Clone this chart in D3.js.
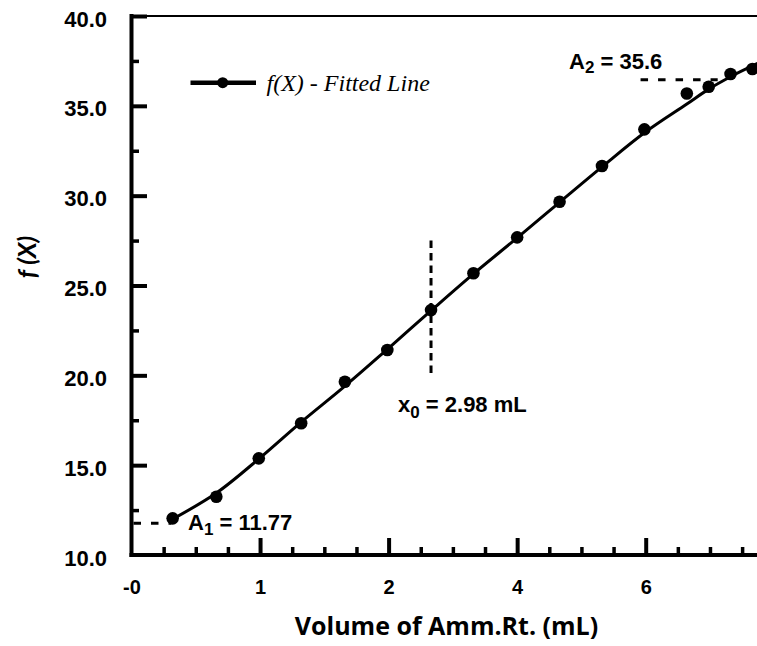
<!DOCTYPE html>
<html>
<head>
<meta charset="utf-8">
<script src="https://cdn.jsdelivr.net/npm/d3@7"></script>
<style>
  html, body { margin: 0; padding: 0; background: #fff; }
  svg { display: block; }
</style>
</head>
<body>
<div id="chart"></div>
<script>
// ---- data ----
// x positions in axis units (major ticks at 0..4, labelled as in the original)
const pointX = [0.32, 0.66, 0.99, 1.32, 1.66, 1.99, 2.33, 2.66, 3.0, 3.33, 3.66, 3.99, 4.32, 4.49, 4.66, 4.83];
const pointY = [12.04, 13.24, 15.38, 17.33, 19.64, 21.41, 23.63, 25.68, 27.68, 29.66, 31.65, 33.69, 35.69, 36.06, 36.77, 37.05];
const curveX = [0.32, 0.66, 0.99, 1.32, 1.66, 1.99, 2.33, 2.66, 3.0, 3.33, 3.66, 3.99, 4.32, 4.49, 4.66, 4.87];
const curveY = [12.0, 13.45, 15.35, 17.4, 19.4, 21.45, 23.6, 25.65, 27.65, 29.63, 31.6, 33.5, 35.1, 35.93, 36.62, 37.36];
const xTickValues = [0, 1, 2, 3, 4];
const xTickLabels = ["-0", "1", "2", "4", "6"];
const yTickValues = [10, 15, 20, 25, 30, 35, 40];
const yTickLabels = ["10.0", "15.0", "20.0", "25.0", "30.0", "35.0", "40.0"];
const a1Line = { x: [0, 0.31], y: 11.77 };
const a2Line = { x: [3.96, 4.56], y: 36.45 };
const x0Line = { x: 2.33, y: [20.0, 27.5] };
const labels = {
  a1: { main: "A", sub: "1", rest: " = 11.77" },
  a2: { main: "A", sub: "2", rest: " = 35.6" },
  x0: { main: "x", sub: "0", rest: " = 2.98  mL" },
  legend: "f(X) - Fitted Line",
  xTitle: "Volume of Amm.Rt. (mL)",
  yTitle: "f (X)"
};

// ---- layout ----
const W = 757, H = 646;
const plotLeft = 131.5, plotTop = 16, plotBottom = 555;
const unitPx = 128.55;
const x = d3.scaleLinear().domain([0, 4]).range([plotLeft, plotLeft + 4 * unitPx]);
const xMax = x.invert(W);
const y = d3.scaleLinear().domain([10, 40]).range([plotBottom, plotTop]);
const SANS = "Liberation Sans, Arial, sans-serif";

const svg = d3.select("#chart").append("svg")
  .attr("width", W).attr("height", H)
  .attr("viewBox", `0 0 ${W} ${H}`);
svg.append("rect").attr("width", W).attr("height", H).attr("fill", "#fff");

// top border (thin)
svg.append("line")
  .attr("x1", x(0)).attr("x2", x(xMax))
  .attr("y1", y(40)).attr("y2", y(40))
  .attr("stroke", "#000").attr("stroke-width", 2);

// minor ticks
const xMinor = d3.range(0.25, xMax, 0.25).filter(v => Math.abs(v - Math.round(v)) > 1e-6);
const yMinor = d3.range(12.5, 40, 5);

const xMinorAxis = d3.axisBottom(x).tickValues(xMinor).tickSize(-8).tickSizeOuter(0).tickFormat("");
const yMinorAxis = d3.axisLeft(y).tickValues(yMinor).tickSize(-7.5).tickSizeOuter(0).tickFormat("");

const gxm = svg.append("g").attr("transform", `translate(0,${plotBottom})`).call(xMinorAxis);
const gym = svg.append("g").attr("transform", `translate(${plotLeft},0)`).call(yMinorAxis);
[gxm, gym].forEach(g => {
  g.select(".domain").remove();
  g.selectAll(".tick line").attr("stroke", "#000").attr("stroke-width", 3.5);
});

// major axes
const xAxis = d3.axisBottom(x)
  .tickValues(xTickValues)
  .tickFormat((d, i) => xTickLabels[i])
  .tickSize(-17).tickSizeOuter(0).tickPadding(25);
const yAxis = d3.axisLeft(y)
  .tickValues(yTickValues)
  .tickFormat((d, i) => yTickLabels[i])
  .tickSize(-15.5).tickSizeOuter(0).tickPadding(24.5);

const gx = svg.append("g").attr("transform", `translate(0,${plotBottom})`).call(xAxis);
const gy = svg.append("g").attr("transform", `translate(${plotLeft},0)`).call(yAxis);

gx.select(".domain").attr("d", `M${x(0) - 2},0H${W}`).attr("stroke", "#000").attr("stroke-width", 4);
gy.select(".domain").attr("d", `M0,${y(10) + 2}V${y(40) - 2}`).attr("stroke", "#000").attr("stroke-width", 4);
gx.selectAll(".tick line").attr("stroke", "#000").attr("stroke-width", 4);
gy.selectAll(".tick line").attr("stroke", "#000").attr("stroke-width", 4);
gx.selectAll(".tick").filter(d => d === 0).select("line").remove();
gy.selectAll(".tick").filter(d => d === 10).select("line").remove();

gx.selectAll(".tick text")
  .attr("font-family", SANS)
  .attr("font-weight", "bold").attr("font-size", 20).attr("fill", "#000");
gy.selectAll(".tick text")
  .attr("font-family", SANS)
  .attr("font-weight", "bold").attr("font-size", 22).attr("fill", "#000")
  .attr("dy", 10);

// dashed annotation lines
const dashStyle = sel => sel.attr("stroke", "#000").attr("stroke-width", 3).attr("fill", "none");
svg.append("line")
  .attr("x1", x(a1Line.x[0]) + 2).attr("x2", x(a1Line.x[1]))
  .attr("y1", y(a1Line.y)).attr("y2", y(a1Line.y))
  .attr("stroke-dasharray", "7.5,10").call(dashStyle);
svg.append("line")
  .attr("x1", x(a2Line.x[0])).attr("x2", x(a2Line.x[1]))
  .attr("y1", y(a2Line.y)).attr("y2", y(a2Line.y))
  .attr("stroke-dasharray", "7.5,10").call(dashStyle);
svg.append("line")
  .attr("x1", x(x0Line.x)).attr("x2", x(x0Line.x))
  .attr("y1", y(x0Line.y[1])).attr("y2", y(x0Line.y[0]))
  .attr("stroke-dasharray", "7.5,5").call(dashStyle);

// fitted curve
const curveData = curveX.map((v, i) => [v, curveY[i]]);
const line = d3.line().x(d => x(d[0])).y(d => y(d[1])).curve(d3.curveCatmullRom.alpha(0.5));
svg.append("path").datum(curveData)
  .attr("d", line)
  .attr("fill", "none").attr("stroke", "#000").attr("stroke-width", 3);

// points
const pts = pointX.map((v, i) => [v, pointY[i]]);
svg.append("g").selectAll("circle").data(pts).join("circle")
  .attr("cx", d => x(d[0])).attr("cy", d => y(d[1]))
  .attr("r", 6.3).attr("fill", "#000");

// annotation texts
function subLabel(lbl, px, py, subShift, subSize) {
  const t = svg.append("text")
    .attr("x", px).attr("y", py)
    .attr("font-family", SANS)
    .attr("font-weight", "bold").attr("font-size", 22).attr("fill", "#000");
  t.append("tspan").text(lbl.main);
  t.append("tspan").attr("dy", subShift).attr("font-size", subSize).text(lbl.sub);
  t.append("tspan").attr("dy", -subShift).text(lbl.rest);
  return t;
}
subLabel(labels.a1, 188, 530, 4.5, 17);
subLabel(labels.a2, 569, 69, 3.5, 17);
subLabel(labels.x0, 398, 412, 6, 17);

// legend
const lg = svg.append("g");
lg.append("line").attr("x1", 190.5).attr("x2", 256).attr("y1", 82.7).attr("y2", 82.7)
  .attr("stroke", "#000").attr("stroke-width", 4.5);
lg.append("circle").attr("cx", 222.7).attr("cy", 82.7).attr("r", 5.5).attr("fill", "#000");
lg.append("text").attr("x", 266.5).attr("y", 91)
  .attr("font-family", "Liberation Serif, Times New Roman, serif")
  .attr("font-style", "italic").attr("font-size", 24).attr("fill", "#000")
  .text(labels.legend);

// axis titles
svg.append("text")
  .attr("x", (295 + 598) / 2).attr("y", 635)
  .attr("text-anchor", "middle")
  .attr("font-family", "Open Sans, Lato, sans-serif")
  .attr("font-weight", "bold").attr("font-size", 25).attr("fill", "#000")
  .text(labels.xTitle);
svg.append("text")
  .attr("transform", `translate(36,257) rotate(-90)`)
  .attr("text-anchor", "middle")
  .attr("font-family", "Lato, Open Sans, sans-serif")
  .attr("font-weight", "bold").attr("font-style", "italic").attr("font-size", 25).attr("fill", "#000")
  .text(labels.yTitle);
</script>
</body>
</html>
